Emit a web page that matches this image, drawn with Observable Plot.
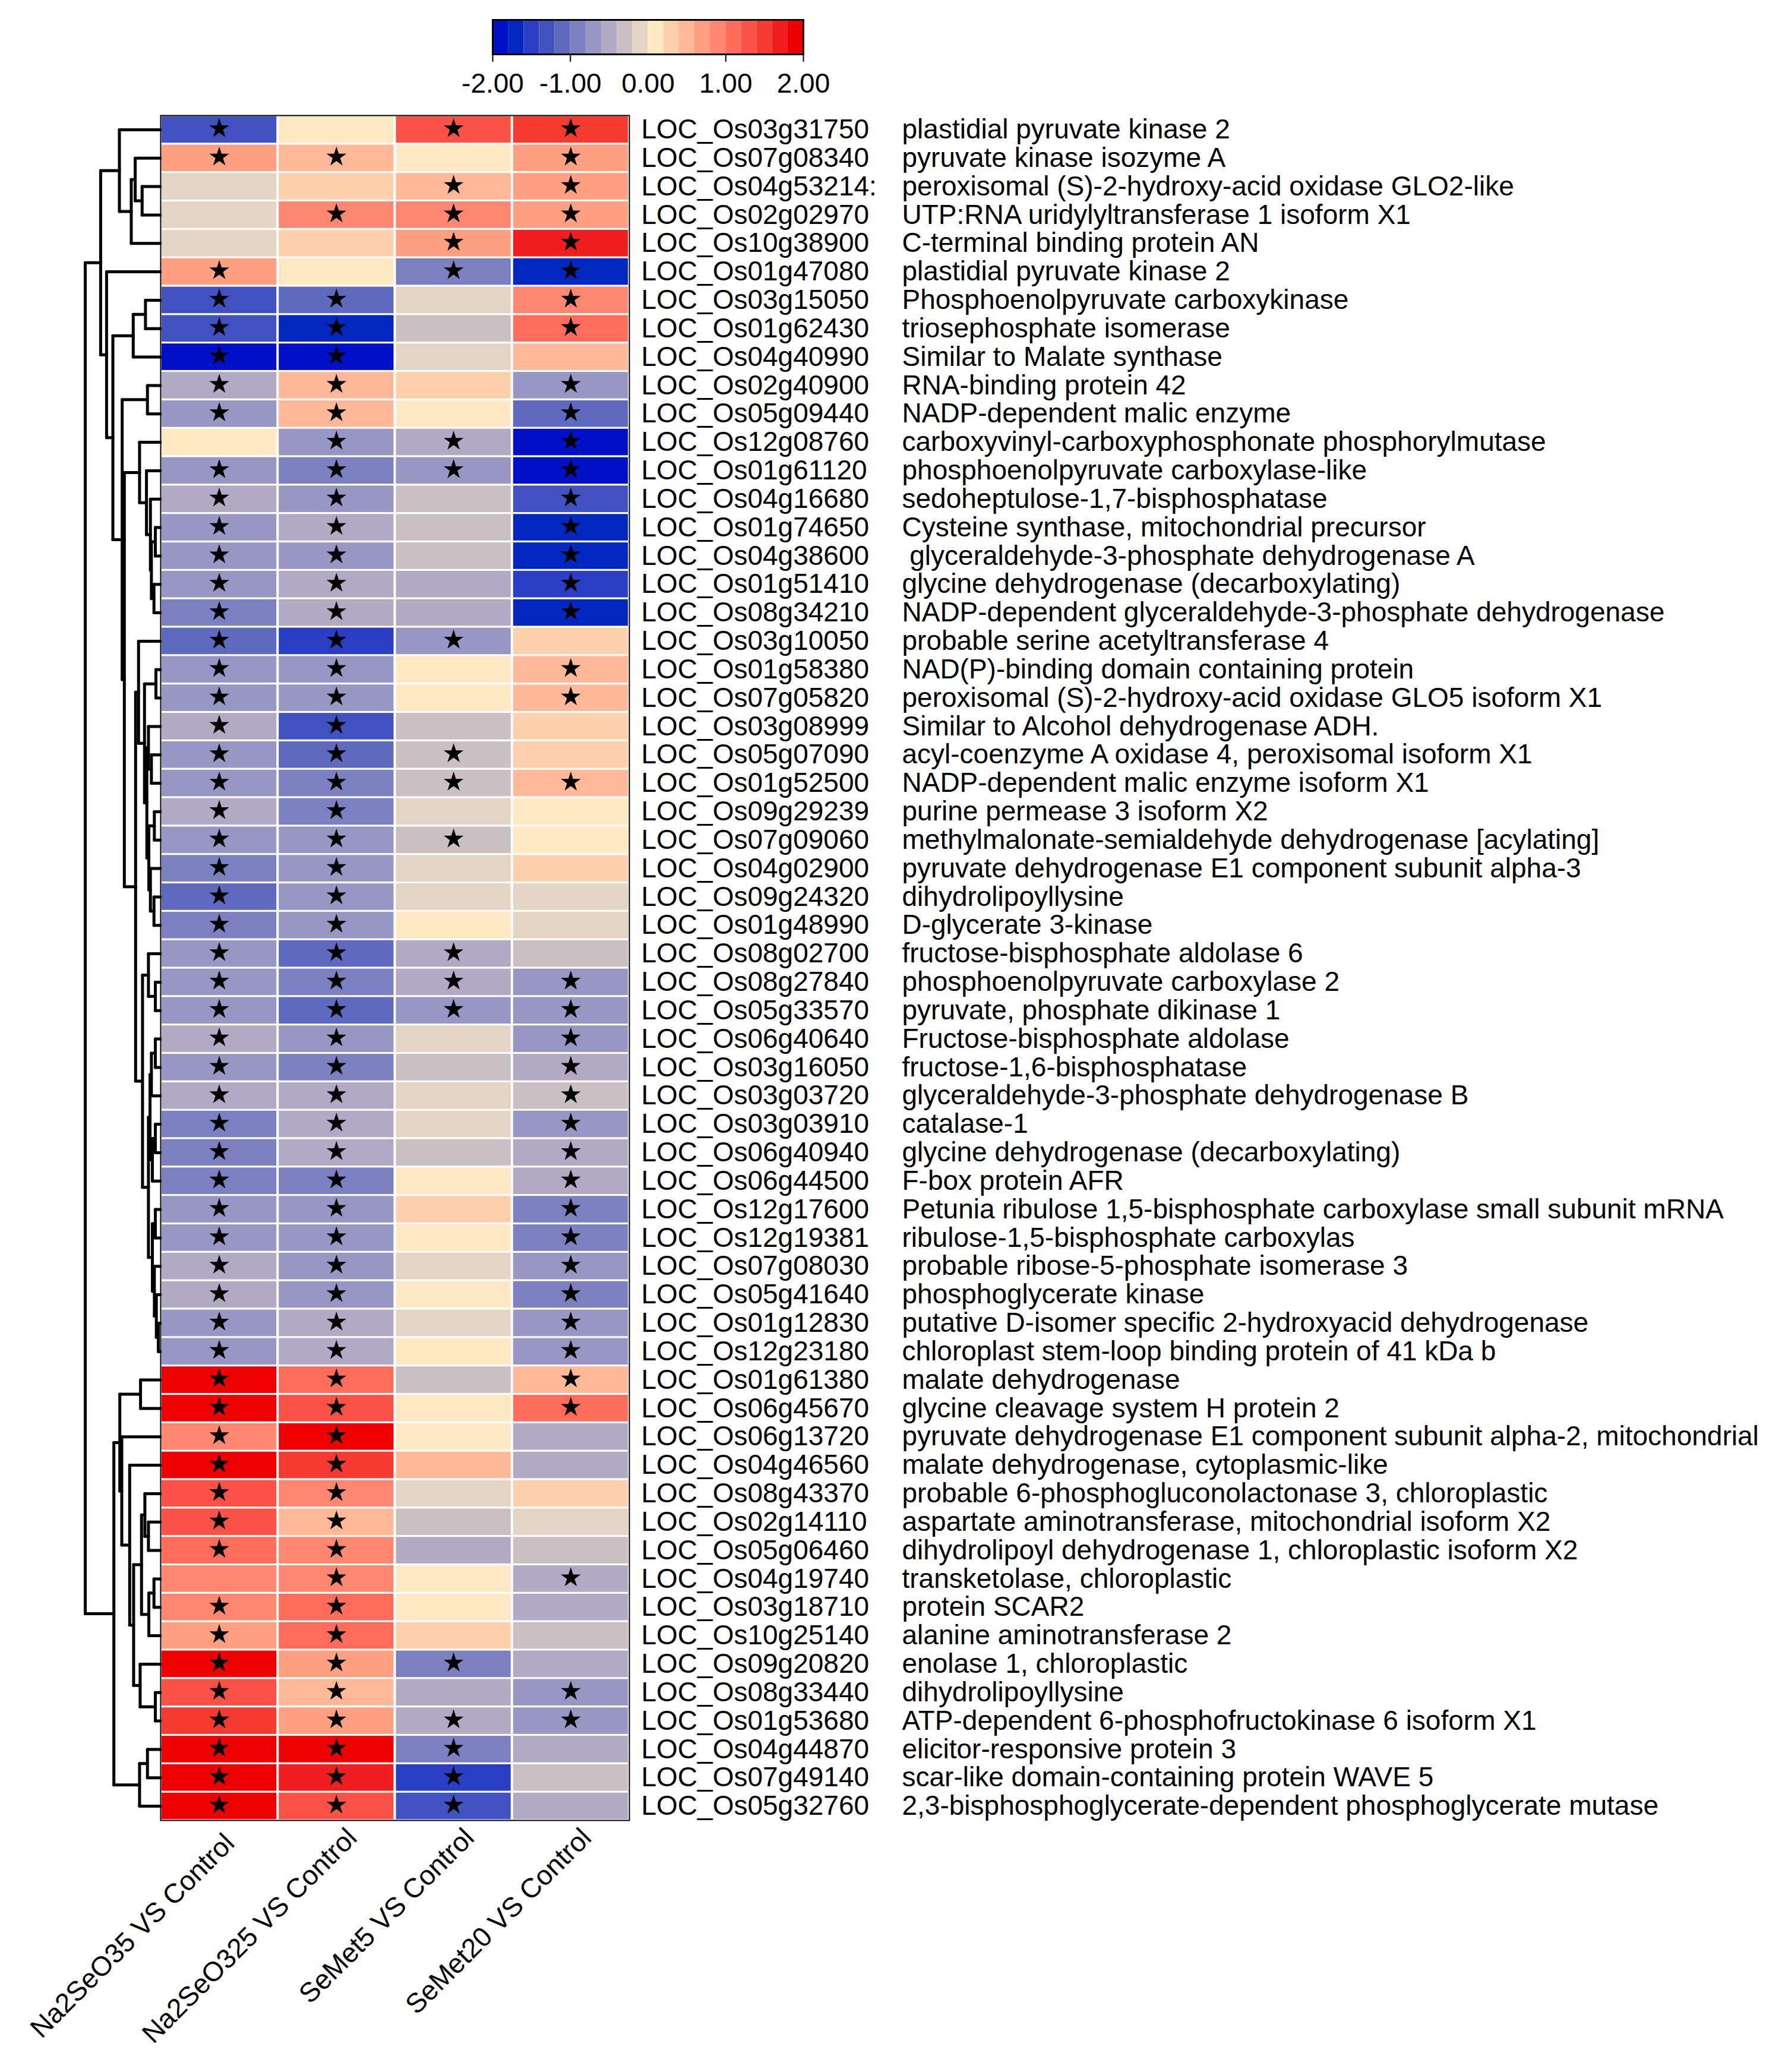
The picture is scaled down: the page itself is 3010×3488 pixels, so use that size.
<!DOCTYPE html>
<html>
<head>
<meta charset="utf-8">
<script src="https://cdn.jsdelivr.net/npm/d3@7"></script>
<script src="https://cdn.jsdelivr.net/npm/@observablehq/plot@0.6"></script>
<style>
  body { margin: 0; background: #fff; }
  #wrap { position: relative; width: 3010px; height: 3488px; background: #fff; }
  #wrap svg { position: absolute; left: 0; top: 0; max-width: none; }
</style>
</head>
<body>
<div id="wrap"></div>
<script>
const FONT = '"Liberation Sans", Arial, "Helvetica", sans-serif';

// ---------------- data ----------------
const columns = ["Na2SeO35 VS Control", "Na2SeO325 VS Control", "SeMet5 VS Control", "SeMet20 VS Control"];
const columnLabels = ["Na2SeO35 VS Control\u00a0", "Na2SeO325 VS Control", "SeMet5 VS Control", "SeMet20 VS Control"];

const locIds = ["LOC_Os03g31750","LOC_Os07g08340","LOC_Os04g53214:","LOC_Os02g02970","LOC_Os10g38900","LOC_Os01g47080","LOC_Os03g15050","LOC_Os01g62430","LOC_Os04g40990","LOC_Os02g40900","LOC_Os05g09440","LOC_Os12g08760","LOC_Os01g61120","LOC_Os04g16680","LOC_Os01g74650","LOC_Os04g38600","LOC_Os01g51410","LOC_Os08g34210","LOC_Os03g10050","LOC_Os01g58380","LOC_Os07g05820","LOC_Os03g08999","LOC_Os05g07090","LOC_Os01g52500","LOC_Os09g29239","LOC_Os07g09060","LOC_Os04g02900","LOC_Os09g24320","LOC_Os01g48990","LOC_Os08g02700","LOC_Os08g27840","LOC_Os05g33570","LOC_Os06g40640","LOC_Os03g16050","LOC_Os03g03720","LOC_Os03g03910","LOC_Os06g40940","LOC_Os06g44500","LOC_Os12g17600","LOC_Os12g19381","LOC_Os07g08030","LOC_Os05g41640","LOC_Os01g12830","LOC_Os12g23180","LOC_Os01g61380","LOC_Os06g45670","LOC_Os06g13720","LOC_Os04g46560","LOC_Os08g43370","LOC_Os02g14110","LOC_Os05g06460","LOC_Os04g19740","LOC_Os03g18710","LOC_Os10g25140","LOC_Os09g20820","LOC_Os08g33440","LOC_Os01g53680","LOC_Os04g44870","LOC_Os07g49140","LOC_Os05g32760"];

const descriptions = ["plastidial pyruvate kinase 2","pyruvate kinase isozyme A","peroxisomal (S)-2-hydroxy-acid oxidase GLO2-like","UTP:RNA uridylyltransferase 1 isoform X1","C-terminal binding protein AN","plastidial pyruvate kinase 2","Phosphoenolpyruvate carboxykinase","triosephosphate isomerase","Similar to Malate synthase","RNA-binding protein 42","NADP-dependent malic enzyme","carboxyvinyl-carboxyphosphonate phosphorylmutase","phosphoenolpyruvate carboxylase-like","sedoheptulose-1,7-bisphosphatase","Cysteine synthase, mitochondrial precursor","\u00a0glyceraldehyde-3-phosphate dehydrogenase A","glycine dehydrogenase (decarboxylating)","NADP-dependent glyceraldehyde-3-phosphate dehydrogenase","probable serine acetyltransferase 4","NAD(P)-binding domain containing protein","peroxisomal (S)-2-hydroxy-acid oxidase GLO5 isoform X1","Similar to Alcohol dehydrogenase ADH.","acyl-coenzyme A oxidase 4, peroxisomal isoform X1","NADP-dependent malic enzyme isoform X1","purine permease 3 isoform X2","methylmalonate-semialdehyde dehydrogenase [acylating]","pyruvate dehydrogenase E1 component subunit alpha-3","dihydrolipoyllysine","D-glycerate 3-kinase","fructose-bisphosphate aldolase 6","phosphoenolpyruvate carboxylase 2","pyruvate, phosphate dikinase 1","Fructose-bisphosphate aldolase","fructose-1,6-bisphosphatase","glyceraldehyde-3-phosphate dehydrogenase B","catalase-1","glycine dehydrogenase (decarboxylating)","F-box protein AFR","Petunia ribulose 1,5-bisphosphate carboxylase small subunit mRNA","ribulose-1,5-bisphosphate carboxylas","probable ribose-5-phosphate isomerase 3","phosphoglycerate kinase","putative D-isomer specific 2-hydroxyacid dehydrogenase","chloroplast stem-loop binding protein of 41 kDa b","malate dehydrogenase","glycine cleavage system H protein 2","pyruvate dehydrogenase E1 component subunit alpha-2, mitochondrial","malate dehydrogenase, cytoplasmic-like","probable 6-phosphogluconolactonase 3, chloroplastic","aspartate aminotransferase, mitochondrial isoform X2","dihydrolipoyl dehydrogenase 1, chloroplastic isoform X2","transketolase, chloroplastic","protein SCAR2","alanine aminotransferase 2","enolase 1, chloroplastic","dihydrolipoyllysine","ATP-dependent 6-phosphofructokinase 6 isoform X1","elicitor-responsive protein 3","scar-like domain-containing protein WAVE 5","2,3-bisphosphoglycerate-dependent phosphoglycerate mutase"];

// log2 fold-change style values (row order top -> bottom)
const valNa5 = [-1.3,0.7,-0.1,-0.1,-0.1,0.7,-1.3,-1.3,-1.9,-0.5, -0.7,0.1,-0.7,-0.5,-0.7,-0.7,-0.7,-0.9,-1.1,-0.7, -0.7,-0.5,-0.7,-0.7,-0.5,-0.7,-0.9,-1.1,-0.9,-0.7, -0.7,-0.7,-0.5,-0.7,-0.5,-0.9,-0.9,-0.9,-0.7,-0.7, -0.5,-0.5,-0.7,-0.7,1.9,1.9,0.9,1.9,1.3,1.3, 1.1,0.9,0.9,0.7,1.9,1.3,1.5,1.9,1.9,1.9];
const valNa25 = [0.1,0.5,0.3,0.9,0.3,0.1,-1.1,-1.7,-1.9,0.5, 0.5,-0.7,-0.9,-0.7,-0.5,-0.7,-0.5,-0.5,-1.5,-0.7, -0.7,-1.3,-1.1,-0.9,-0.9,-0.7,-0.7,-0.7,-0.7,-1.1, -0.9,-1.1,-0.7,-0.9,-0.5,-0.5,-0.5,-0.9,-0.7,-0.7, -0.7,-0.7,-0.5,-0.5,1.1,1.3,1.9,1.5,0.9,0.5, 0.9,0.9,1.1,1.1,0.7,0.5,0.7,1.9,1.7,1.3];
const valSe5 = [1.3,0.1,0.5,0.9,0.7,-0.9,-0.1,-0.3,-0.1,0.3, 0.1,-0.5,-0.7,-0.3,-0.3,-0.3,-0.5,-0.5,-0.7,0.1, 0.1,-0.3,-0.3,-0.3,-0.1,-0.3,-0.1,-0.1,0.1,-0.5, -0.5,-0.7,-0.1,-0.3,-0.1,-0.1,-0.3,0.1,0.3,0.1, -0.1,0.1,-0.1,0.1,-0.3,0.1,0.1,0.5,-0.1,-0.3, -0.5,0.1,0.1,0.3,-0.9,-0.5,-0.5,-0.9,-1.5,-1.3];
const valSe20 = [1.5,0.7,0.7,0.7,1.7,-1.7,0.9,1.1,0.5,-0.7, -1.1,-1.9,-1.9,-1.3,-1.7,-1.7,-1.5,-1.7,0.3,0.5, 0.5,0.3,0.3,0.5,0.1,0.1,0.3,-0.1,-0.1,-0.3, -0.7,-0.7,-0.7,-0.5,-0.3,-0.7,-0.5,-0.5,-0.9,-0.9, -0.7,-0.9,-0.7,-0.7,0.5,1.1,-0.5,-0.5,0.3,-0.1, -0.3,-0.5,-0.5,-0.3,-0.5,-0.7,-0.7,-0.5,-0.3,-0.5];

// significance stars (1 = star)
const starNa5 = [1,1,0,0,0,1,1,1,1,1, 1,0,1,1,1,1,1,1,1,1, 1,1,1,1,1,1,1,1,1,1, 1,1,1,1,1,1,1,1,1,1, 1,1,1,1,1,1,1,1,1,1, 1,0,1,1,1,1,1,1,1,1];
const starNa25 = [0,1,0,1,0,0,1,1,1,1, 1,1,1,1,1,1,1,1,1,1, 1,1,1,1,1,1,1,1,1,1, 1,1,1,1,1,1,1,1,1,1, 1,1,1,1,1,1,1,1,1,1, 1,1,1,1,1,1,1,1,1,1];
const starSe5 = [1,0,1,1,1,1,0,0,0,0, 0,1,1,0,0,0,0,0,1,0, 0,0,1,1,0,1,0,0,0,1, 1,1,0,0,0,0,0,0,0,0, 0,0,0,0,0,0,0,0,0,0, 0,0,0,0,1,0,1,1,1,1];
const starSe20 = [1,1,1,1,1,1,1,1,0,1, 1,1,1,1,1,1,1,1,0,1, 1,0,0,1,0,0,0,0,0,0, 1,1,1,1,1,1,1,1,1,1, 1,1,1,1,1,1,0,0,0,0, 0,1,0,0,0,1,1,0,0,0];

// colour key: 20 classes from -2 to 2
const breaks = [-2,-1.8,-1.6,-1.4,-1.2,-1,-0.8,-0.6,-0.4,-0.2,0,0.2,0.4,0.6,0.8,1,1.2,1.4,1.6,1.8,2];
const palette = ["#0010c8","#0028c0","#2a3ec4","#4052c0","#5e6abe","#7c80c0","#9896c2","#b2aac4","#cac0c4","#e4d4c4","#ffe8c4","#ffd0ac","#ffb898","#ffa080","#ff8670","#ff6c5a","#fa5246","#f53a32","#f01e1e","#ee0000"];
const keyTicks = [-2, -1, 0, 1, 2];

// row dendrogram, hclust-style merge list: [left, right, height]; negative = leaf row
const merges = [
  [-3,-4,94],[-2,1,129],[2,-5,149],[-1,3,209],[-7,-8,77],[5,-9,139],[-10,-11,67],
  [-15,-16,27],[-17,-18,34],[8,9,47],[-14,10,52],[-13,11,72],[-12,12,107],
  [-20,-21,24],[-23,-24,47],[-22,15,62],[-25,-26,32],[-28,-29,34],[-27,18,52],
  [17,19,60],[16,20,70],[14,21,82],[-19,22,112],[-31,-32,27],[-30,24,62],
  [-33,-34,27],[26,-35,47],[-36,-37,27],[28,-38,42],[27,29,54],[-39,-40,27],
  [-43,-44,12],[-42,32,22],[-41,33,32],[31,34,42],[30,35,62],[25,36,92],
  [23,37,127],[13,38,184],[7,39,195],[6,40,242],[-6,41,274],[4,42,304],
  [-45,-46,102],[-50,-51,62],[-49,45,80],[-52,-53,34],[47,-54,60],[46,48,97],
  [-56,-57,27],[-55,50,104],[49,51,137],[-48,52,157],[-47,53,197],[44,54,207],
  [-58,-59,67],[56,-60,107],[55,57,237],[43,58,382]
];

// ---------------- derived tables ----------------
const rows = locIds.map((_, i) => i + 1);
const valueCols = [valNa5, valNa25, valSe5, valSe20];
const starCols = [starNa5, starNa25, starSe5, starSe20];
const cells = [];
columns.forEach((c, ci) => rows.forEach((r, ri) => {
  cells.push({col: c, row: r, value: valueCols[ci][ri], star: starCols[ci][ri]});
}));
const thresholds = breaks.slice(1, -1);
const keyBins = palette.map((p, i) => ({x1: breaks[i], x2: breaks[i + 1], fill: p}));
const colLabelData = columns.map((c, i) => ({col: c, label: columnLabels[i]}));

const nodeY = [], nodeH = [];
const posOf = k => k < 0 ? -k : nodeY[k - 1];
const hOf = k => k < 0 ? 0 : nodeH[k - 1];
const segs = [];
merges.forEach(([a, b, h]) => {
  const ya = posOf(a), yb = posOf(b);
  segs.push({x1: hOf(a), y1: ya, x2: h, y2: ya});
  segs.push({x1: hOf(b), y1: yb, x2: h, y2: yb});
  segs.push({x1: h, y1: ya, x2: h, y2: yb});
  nodeY.push((ya + yb) / 2);
  nodeH.push(h);
});
const maxH = d3.max(merges, d => d[2]);

// ---------------- layout ----------------
const W = 3010, H = 3488;
const hmLeft = 270, hmRight = 1059, hmTop = 194, hmBottom = 3064;
const wrap = document.getElementById("wrap");
const baseStyle = {fontFamily: FONT, fontSize: "46px", background: "transparent", color: "black"};

// dendrogram
const dendro = Plot.plot({
  width: W, height: H,
  marginLeft: 0, marginRight: 0, marginTop: 0, marginBottom: 0,
  style: baseStyle,
  x: {domain: [0, maxH], range: [hmLeft, 143], axis: null},
  y: {domain: [0.5, rows.length + 0.5], range: [hmTop, hmBottom], axis: null},
  marks: [
    Plot.link(segs, {x1: "x1", y1: "y1", x2: "x2", y2: "y2", stroke: "black", strokeWidth: 5, strokeLinecap: "round"})
  ]
});
wrap.appendChild(dendro);

// heatmap + labels
const heat = Plot.plot({
  width: W, height: H,
  marginLeft: hmLeft, marginRight: W - hmRight, marginTop: hmTop, marginBottom: H - hmBottom,
  style: baseStyle,
  x: {domain: columns, range: [hmLeft, hmRight], padding: 0, round: false, axis: null},
  y: {domain: rows, range: [hmTop, hmBottom], padding: 0, round: false},
  color: {type: "threshold", domain: thresholds, range: palette},
  marks: [
    Plot.cell(cells, {x: "col", y: "row", fill: "value", insetLeft: 2, insetRight: 2, insetTop: 1.6, insetBottom: 1.6}),
    Plot.dot(cells.filter(d => d.star === 1), {x: "col", y: "row", symbol: "star", r: 10.5, dy: -2, fill: "black", stroke: "none"}),
    Plot.frame({stroke: "black", strokeWidth: 2}),
    Plot.axisY({anchor: "right", ticks: rows, tickSize: 0, tickPadding: 20, tickFormat: r => locIds[r - 1], label: null, fontSize: 46, fill: "black"}),
    Plot.axisY({anchor: "right", ticks: rows, tickSize: 0, tickPadding: 459, tickFormat: r => descriptions[r - 1], label: null, fontSize: 46, fill: "black"}),
    Plot.text(colLabelData, {x: "col", text: "label", frameAnchor: "bottom", rotate: -45, textAnchor: "end", lineAnchor: "top", dx: 14, dy: 9, fontSize: 46, fill: "black"})
  ]
});
wrap.appendChild(heat);

// colour key
const key = Plot.plot({
  width: W, height: 200,
  marginLeft: 829, marginRight: W - 1352, marginTop: 33, marginBottom: 200 - 91,
  style: baseStyle,
  x: {domain: [-2, 2], range: [829, 1352], axis: null},
  marks: [
    Plot.rect(keyBins, {x1: "x1", x2: "x2", fill: "fill"}),
    Plot.frame({stroke: "black", strokeWidth: 3}),
    Plot.axisX(keyTicks.filter(t => t !== 0), {anchor: "bottom", tickSize: 13, strokeWidth: 2, tickFormat: () => "", label: null}),
    Plot.axisX(keyTicks, {anchor: "bottom", tickSize: 0, tickPadding: 32, tickFormat: d => d.toFixed(2), label: null, fontSize: 46, fill: "black"})
  ]
});
wrap.appendChild(key);
</script>
</body>
</html>
